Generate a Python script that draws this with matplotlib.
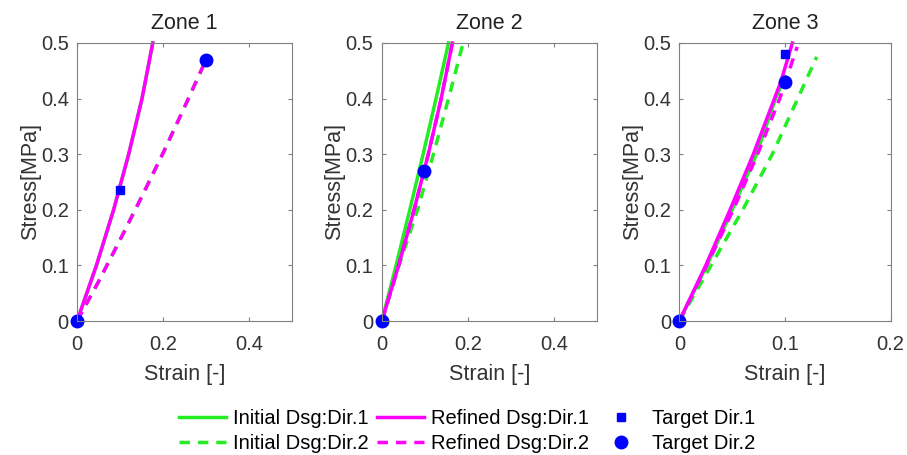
import matplotlib.pyplot as plt

plt.rcParams['font.family'] = ['Liberation Sans', 'DejaVu Sans']

zones = ["Zone 1", "Zone 2", "Zone 3"]
xmax = [0.5, 0.5, 0.2]
xticks = [[0, 0.2, 0.4], [0, 0.2, 0.4], [0, 0.1, 0.2]]
yticks = [0, 0.1, 0.2, 0.3, 0.4, 0.5]

# strain / stress curves per zone
init1_x = [[0, 0.045, 0.085, 0.12, 0.151, 0.176], [0, 0.033, 0.065, 0.096, 0.126, 0.155],
           [0, 0.026, 0.05, 0.073, 0.091, 0.1]]
init1_y = [[0, 0.1, 0.2, 0.3, 0.4, 0.5], [0, 0.1, 0.2, 0.3, 0.4, 0.5],
           [0, 0.1, 0.2, 0.3, 0.4, 0.44]]
init2_x = [[0, 0.05, 0.1, 0.15, 0.2, 0.25, 0.3], [0, 0.04, 0.083, 0.12, 0.155, 0.189],
           [0, 0.03, 0.06, 0.088, 0.112, 0.13]]
init2_y = [[0, 0.071, 0.146, 0.223, 0.302, 0.385, 0.47], [0, 0.1, 0.2, 0.3, 0.4, 0.5],
           [0, 0.1, 0.2, 0.3, 0.4, 0.475]]
ref1_x = [[0, 0.045, 0.085, 0.12, 0.151, 0.176], [0, 0.039, 0.075, 0.108, 0.138, 0.164],
          [0, 0.025, 0.048, 0.07, 0.09, 0.096, 0.107]]
ref1_y = [[0, 0.1, 0.2, 0.3, 0.4, 0.5], [0, 0.1, 0.2, 0.3, 0.4, 0.5],
          [0, 0.1, 0.2, 0.3, 0.4, 0.43, 0.5]]
ref2_x = [[0, 0.05, 0.1, 0.15, 0.2, 0.25, 0.3], [0, 0.039, 0.075, 0.108, 0.138, 0.164],
          [0, 0.026, 0.051, 0.074, 0.095, 0.1115]]
ref2_y = [[0, 0.071, 0.146, 0.223, 0.302, 0.385, 0.47], [0, 0.1, 0.2, 0.3, 0.4, 0.5],
          [0, 0.1, 0.2, 0.3, 0.4, 0.493]]
t1_x = [[0, 0.1], [0, 0.097], [0, 0.1]]
t1_y = [[0, 0.235], [0, 0.269], [0, 0.48]]
t2_x = [[0, 0.3], [0, 0.097], [0, 0.1]]
t2_y = [[0, 0.47], [0, 0.269], [0, 0.43]]

green = '#22ee22'
magenta = '#ff00ff'
blue = '#0000ff'
dash = (0, (3, 2.3))

fig = plt.figure(figsize=(9.07, 4.55), dpi=100)
lefts = [0.085, 0.421, 0.749]
widths = [0.237, 0.237, 0.233]

for i in range(3):
    ax = fig.add_axes([lefts[i], 0.2945, widths[i], 0.611])
    ax.plot(init1_x[i], init1_y[i], color=green, lw=2.5, label='Initial Dsg:Dir.1')
    ax.plot(init2_x[i], init2_y[i], color=green, lw=2.5, ls=dash, label='Initial Dsg:Dir.2')
    ax.plot(ref1_x[i], ref1_y[i], color=magenta, lw=2.5, label='Refined Dsg:Dir.1')
    ax.plot(ref2_x[i], ref2_y[i], color=magenta, lw=2.5, ls=dash, label='Refined Dsg:Dir.2')
    ax.plot(t1_x[i], t1_y[i], 's', color=blue, ms=6, ls='none', label='Target Dir.1')
    ax.plot(t2_x[i], t2_y[i], 'o', color=blue, ms=9, ls='none', label='Target Dir.2')
    ax.set_xlim(0, xmax[i])
    ax.set_ylim(0, 0.5)
    ax.set_xticks(xticks[i])
    ax.set_xticklabels(['0' if v == 0 else f'{v:g}' for v in xticks[i]])
    ax.set_yticks(yticks)
    ax.set_yticklabels(['0' if v == 0 else f'{v:g}' for v in yticks])
    ax.tick_params(direction='in', top=True, right=True, labelsize=14.5,
                   labelcolor='#333333', color='#808080', length=3)
    ax.tick_params(axis='x', pad=10)
    ax.tick_params(axis='y', pad=6)
    for s in ax.spines.values():
        s.set_color('#808080')
    ax.set_title(zones[i], fontsize=15.5, color='#222222', pad=10)
    ax.set_xlabel('Strain [-]', fontsize=15.5, color='#333333', labelpad=7)
    ax.set_ylabel('Stress[MPa]', fontsize=15.5, color='#333333', labelpad=0)
    for ln in ax.get_lines():
        ln.set_clip_on(False)

handles, labels = ax.get_legend_handles_labels()
fig.legend(handles, labels, ncol=3, loc='center', bbox_to_anchor=(0.515, 0.052),
           frameon=False, fontsize=14.5, handlelength=2.35, columnspacing=0.4,
           handletextpad=0.35, labelspacing=0.3, borderpad=0)

plt.savefig('out.png', dpi=100)
